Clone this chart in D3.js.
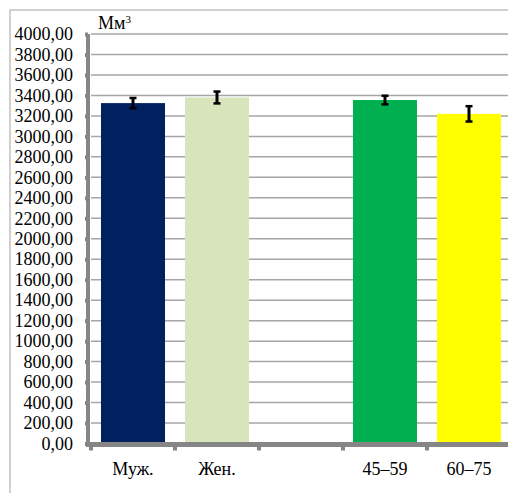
<!DOCTYPE html>
<html><head><meta charset="utf-8">
<script src="https://cdn.jsdelivr.net/npm/d3@7"></script>
<style>body{margin:0;background:#fff}svg{display:block}</style>
</head><body>
<svg id="c" width="508" height="493"></svg>
<script>
const categories = ["Муж.", "Жен.", "", "45–59", "60–75"];
const values = [3325, 3380, null, 3355, 3220];
const errors = [50, 58, null, 42, 75];
const colors = ["#002060", "#d8e4bc", "#ffffff", "#00b050", "#ffff00"];
const yTicks = d3.range(0, 4001, 200);
const unitLabel = "Мм";
const FONT = "Liberation Serif";
const FS = 18;

const svg = d3.select("#c");
// outer frame
svg.append("rect").attr("x", 10).attr("y", 10).attr("width", 600).attr("height", 600)
  .attr("fill", "none").attr("stroke", "#d0d0d0").attr("stroke-width", 2);

const y = d3.scaleLinear().domain([0, 4000]).range([443.5, 34]);
const x = d3.scaleBand().domain(categories).range([91, 511]).paddingInner(0.238).paddingOuter(0.119);

// gridlines
svg.append("g").selectAll("line").data(yTicks.filter(d => d > 0)).join("line")
  .attr("x1", 91).attr("x2", 512).attr("y1", d => y(d)).attr("y2", d => y(d))
  .attr("stroke", "#a6a6a6").attr("stroke-width", 1.5);

// bars
const data = categories.map((c, i) => ({c, v: values[i], e: errors[i], col: colors[i]})).filter(d => d.v != null);
svg.append("g").selectAll("rect").data(data).join("rect")
  .attr("x", d => x(d.c)).attr("width", x.bandwidth())
  .attr("y", d => y(d.v)).attr("height", d => y(0) - y(d.v))
  .attr("fill", d => d.col);

// error bars
const eg = svg.append("g").attr("stroke", "#000");
data.forEach(d => {
  const cx = x(d.c) + x.bandwidth() / 2;
  eg.append("line").attr("x1", cx).attr("x2", cx).attr("y1", y(d.v + d.e)).attr("y2", y(d.v - d.e)).attr("stroke-width", 3);
  [d.v + d.e, d.v - d.e].forEach(v => eg.append("line").attr("x1", cx - 3.5).attr("x2", cx + 3.5)
    .attr("y1", y(v)).attr("y2", y(v)).attr("stroke-width", 2.5));
});

// y axis
const yAxis = d3.axisLeft(y).tickValues(yTicks).tickSizeInner(3).tickSizeOuter(0).tickPadding(12)
  .tickFormat(d => d3.format(".2f")(d).replace(".", ","));
const ga = svg.append("g").attr("transform", "translate(88,0)").call(yAxis);
ga.attr("font-family", FONT).attr("font-size", FS);
ga.select(".domain").attr("stroke", "#868686").attr("stroke-width", 4)
  .attr("d", `M0,${y(4000)}V${y(0) + 3.5}`);
ga.selectAll(".tick line").attr("stroke", "#868686").attr("stroke-width", 4);
ga.selectAll(".tick text").attr("fill", "#000").attr("font-family", FONT).attr("font-size", FS);

// x axis
const bounds = categories.map(c => x(c) - x.step() * 0.119).concat([511]);
const gx = svg.append("g");
gx.append("line").attr("x1", 86).attr("x2", 512).attr("y1", y(0) + 1).attr("y2", y(0) + 1)
  .attr("stroke", "#868686").attr("stroke-width", 5);
gx.selectAll(".tk").data(bounds).join("line").attr("class", "tk")
  .attr("x1", d => d).attr("x2", d => d).attr("y1", y(0) + 3).attr("y2", y(0) + 7)
  .attr("stroke", "#868686").attr("stroke-width", 4);
gx.selectAll("text").data(categories).join("text")
  .attr("x", d => x(d) + x.bandwidth() / 2).attr("y", 475)
  .attr("font-family", FONT).attr("font-size", FS)
  .attr("text-anchor", "middle").text(d => d);

// unit label
const ul = svg.append("text").attr("x", 98).attr("y", 29).attr("font-size", FS).attr("font-family", FONT);
ul.append("tspan").text(unitLabel);
ul.append("tspan").attr("dy", -6).attr("font-size", 11).text("3");
</script>
</body></html>
